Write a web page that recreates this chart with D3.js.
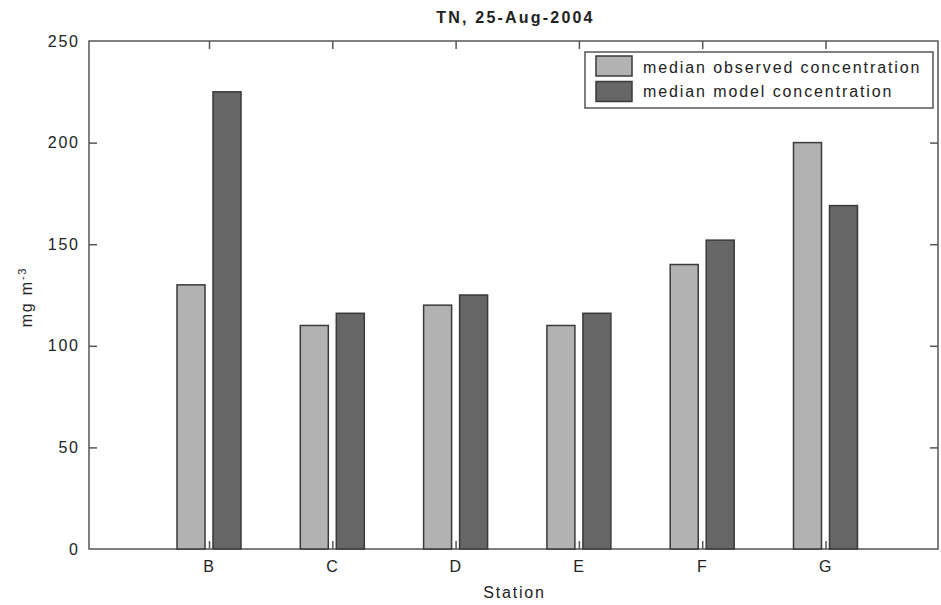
<!DOCTYPE html>
<html><head><meta charset="utf-8">
<script src="https://cdn.jsdelivr.net/npm/d3@7"></script>
<style>
body{margin:0;background:#fff;}
text{font-family:"Liberation Sans",Arial,Helvetica,sans-serif;fill:#222;}
</style></head>
<body><svg id="c" width="941" height="605"></svg>
<script>
const stations = ["B","C","D","E","F","G"];
const seriesNames = ["median observed concentration","median model concentration"];
const observed = [130,110,120,110,140,200];
const model = [225,116,125,116,152,169];
const yTicks = [0,50,100,150,200,250];
const title = "TN, 25-Aug-2004";

const svg = d3.select("#c");
const L=89, R=938, T=41, B=549;
const y = d3.scaleLinear().domain([0,250]).range([B,T]);
const x = d3.scaleLinear().domain([1,6]).range([209,825.5]);
const sub = d3.scaleBand().domain([0,1]).range([-32,32]).paddingInner(0.222).paddingOuter(0);
const fills = ["#b2b2b2","#666666"];
const data = [observed, model];

svg.append("rect").attr("x",L).attr("y",T).attr("width",R-L).attr("height",B-T)
  .attr("fill","#fff").attr("stroke","#555").attr("stroke-width",1.5);

data.forEach((vals,s)=>{
  svg.append("g").selectAll("rect").data(vals).join("rect")
    .attr("x",(d,i)=>x(i+1)+sub(s))
    .attr("width",sub.bandwidth())
    .attr("y",d=>y(d))
    .attr("height",d=>B-y(d))
    .attr("fill",fills[s]).attr("stroke","#3a3a3a").attr("stroke-width",1.5);
});

const tl=8;
const yl = d3.axisLeft(y).tickValues(yTicks).tickSizeInner(-tl).tickSizeOuter(0).tickPadding(11);
const gy = svg.append("g").attr("transform",`translate(${L},0)`).call(yl);
const yr = d3.axisRight(y).tickValues(yTicks).tickSizeInner(-tl).tickSizeOuter(0).tickFormat("");
const gyr = svg.append("g").attr("transform",`translate(${R},0)`).call(yr);
const xb = d3.axisBottom(x).tickValues([1,2,3,4,5,6]).tickFormat(d=>stations[d-1]).tickSizeInner(-tl).tickSizeOuter(0).tickPadding(12);
const gx = svg.append("g").attr("transform",`translate(0,${B})`).call(xb);
const xt = d3.axisTop(x).tickValues([1,2,3,4,5,6]).tickSizeInner(-tl).tickSizeOuter(0).tickFormat("");
const gxt = svg.append("g").attr("transform",`translate(0,${T})`).call(xt);
[gy,gyr,gx,gxt].forEach(g=>{
  g.select(".domain").remove();
  g.selectAll(".tick line").attr("stroke","#555").attr("stroke-width",1.5);
  g.selectAll("text").attr("font-size",16).attr("fill","#333").attr("letter-spacing",1.8);
});
gy.selectAll("text").attr("dx",1.8);
gy.selectAll(".tick").filter(d=>d===0||d===250).select("line").remove();
gyr.selectAll(".tick").filter(d=>d===0||d===250).select("line").remove();

svg.append("text").attr("x",(L+R)/2+2).attr("y",23).attr("text-anchor","middle")
  .attr("font-size",16).attr("font-weight","bold").attr("letter-spacing",2.2).text(title);
svg.append("text").attr("x",(L+R)/2+1).attr("y",598).attr("text-anchor","middle")
  .attr("font-size",16).attr("fill","#333").attr("letter-spacing",1.8).text("Station");
const yt = svg.append("text").attr("transform","translate(32,297) rotate(-90)").attr("text-anchor","middle")
  .attr("font-size",16).attr("fill","#333").attr("letter-spacing",1.8);
yt.append("tspan").text("mg m");
yt.append("tspan").attr("font-size",11).attr("dy",-6).text("-3");

const lg = svg.append("g");
lg.append("rect").attr("x",585).attr("y",52).attr("width",348).attr("height",56)
  .attr("fill","#fff").attr("stroke","#555").attr("stroke-width",1.5);
seriesNames.forEach((n,i)=>{
  lg.append("rect").attr("x",596).attr("y",56+i*25.5).attr("width",36).attr("height",20)
    .attr("fill",fills[i]).attr("stroke","#3a3a3a").attr("stroke-width",1.5);
  lg.append("text").attr("x",643).attr("y",73+i*24).attr("font-size",16).attr("fill","#333")
    .attr("letter-spacing",1.9).text(n);
});
</script></body></html>
